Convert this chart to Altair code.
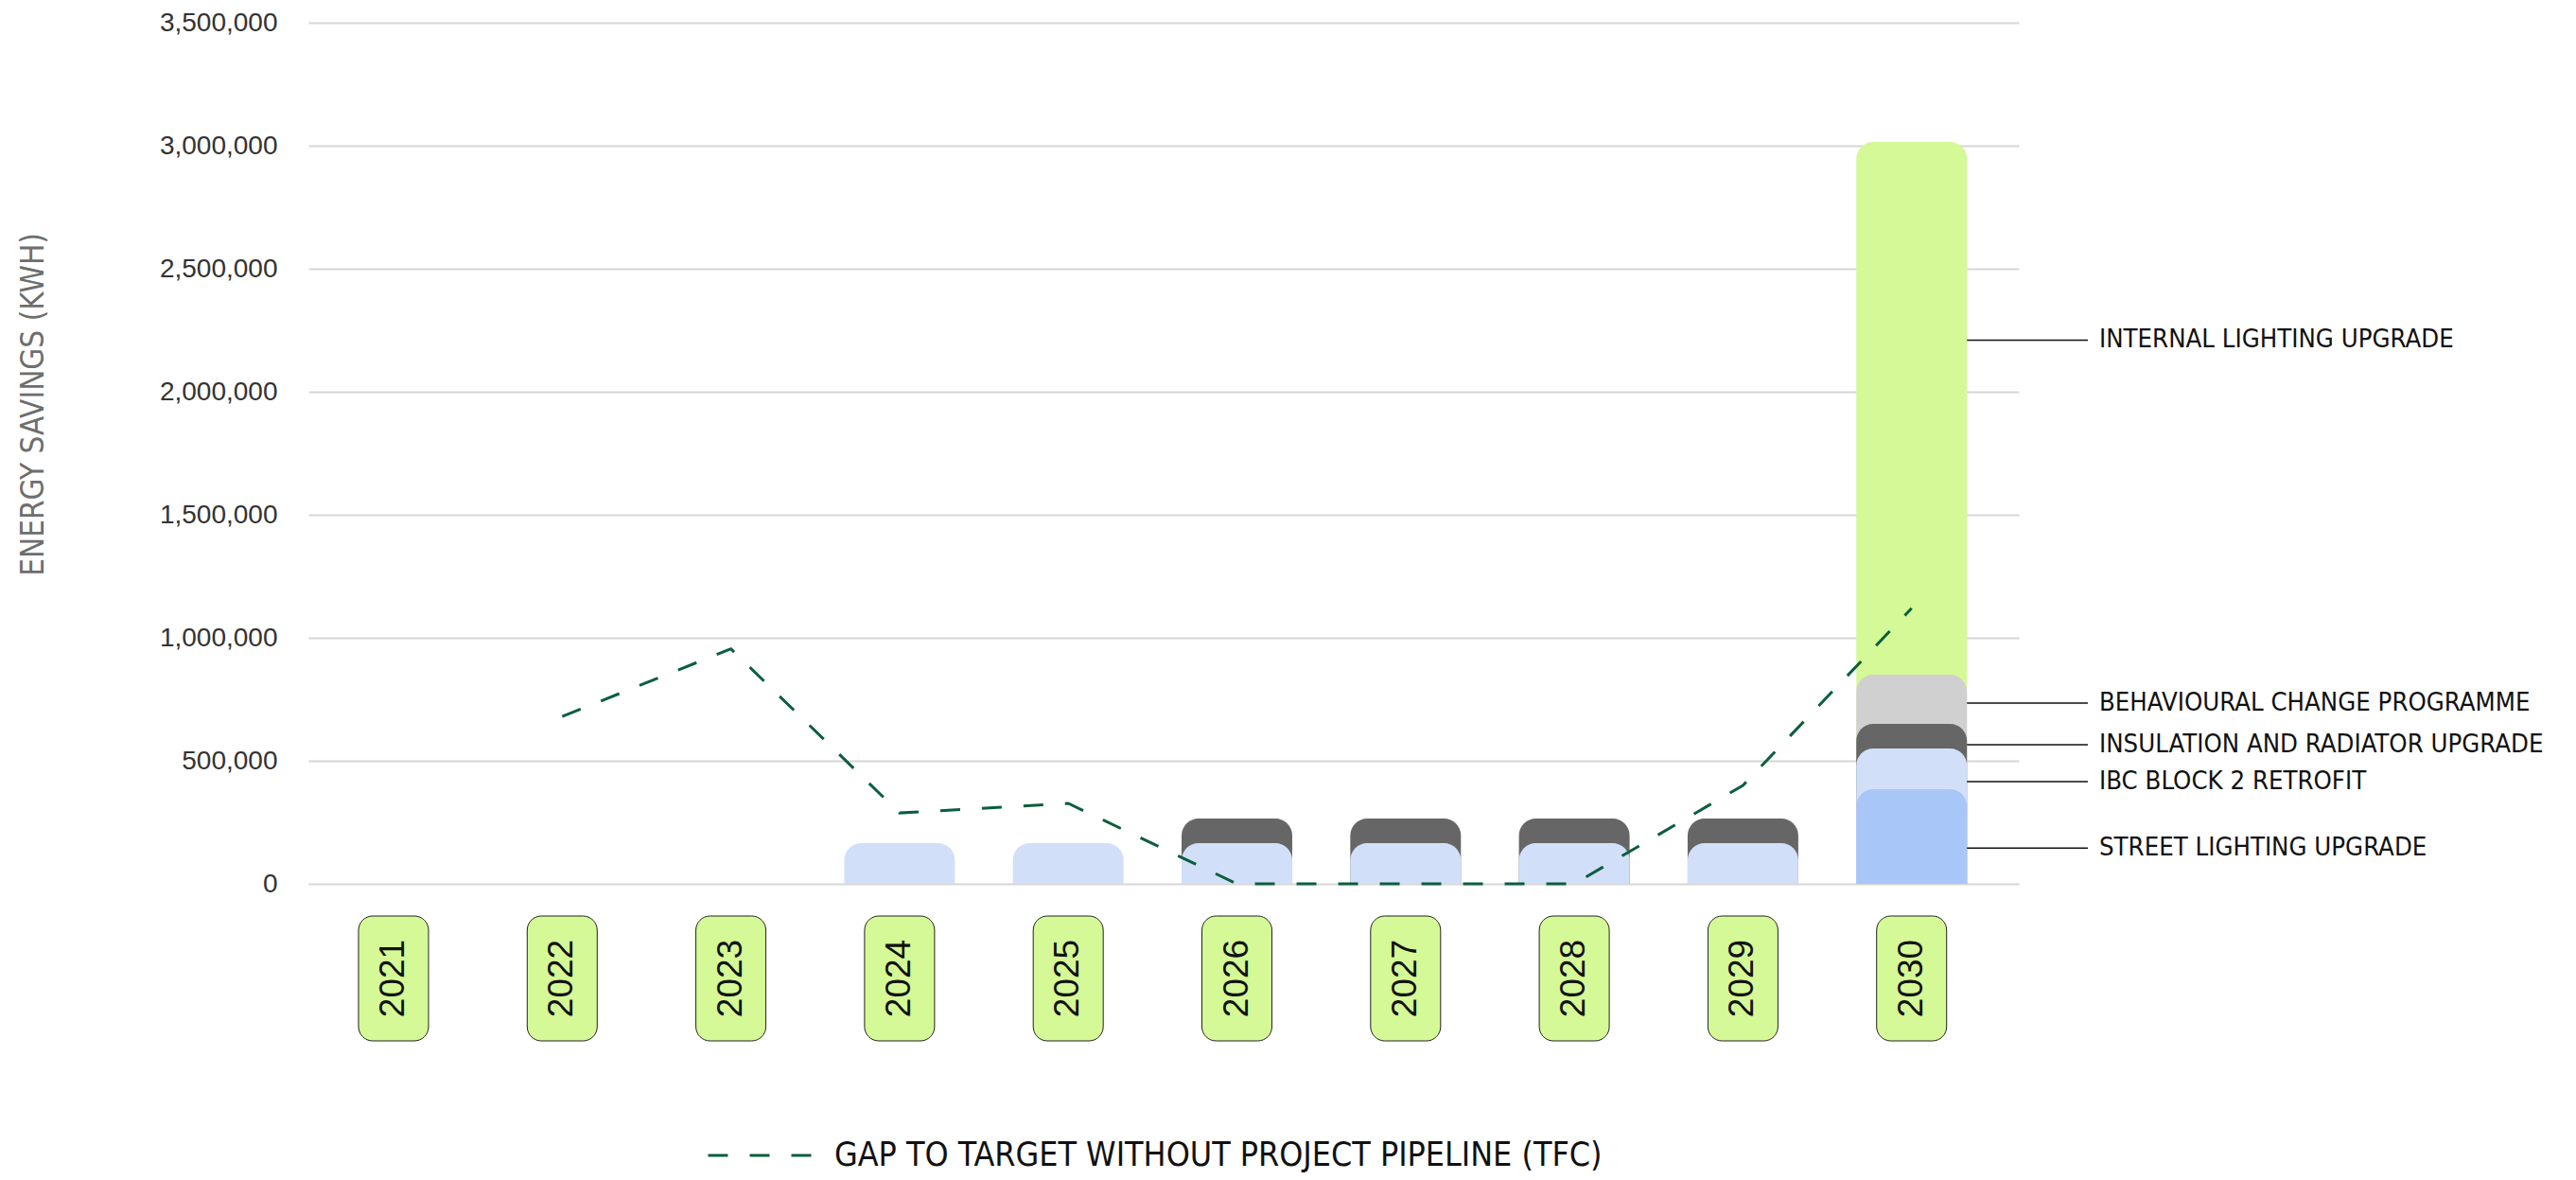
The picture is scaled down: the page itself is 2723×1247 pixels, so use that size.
import altair as alt
import pandas as pd

# ---------------- data ----------------
years = ["2021", "2022", "2023", "2024", "2025", "2026", "2027", "2028", "2029", "2030"]
series_names = [
    "STREET LIGHTING UPGRADE",
    "IBC BLOCK 2 RETROFIT",
    "INSULATION AND RADIATOR UPGRADE",
    "BEHAVIOURAL CHANGE PROGRAMME",
    "INTERNAL LIGHTING UPGRADE",
]
street = [0, 0, 0, 0, 0, 0, 0, 0, 0, 385000]
ibc = [0, 0, 0, 165000, 165000, 165000, 165000, 165000, 165000, 165000]
insulation = [0, 0, 0, 0, 0, 100000, 100000, 100000, 100000, 100000]
behavioural = [0, 0, 0, 0, 0, 0, 0, 0, 0, 200000]
internal = [0, 0, 0, 0, 0, 0, 0, 0, 0, 2165000]

gap_name = "GAP TO TARGET WITHOUT PROJECT PIPELINE (TFC)"
gap_years = ["2022", "2023", "2024", "2025", "2026", "2027", "2028", "2029", "2030"]
gap_values = [680000, 955000, 288000, 327000, 0, 0, 0, 400000, 1120000]

# annotation anchors (kWh) for the labels beside the 2030 bar
annot_values = [145000, 415000, 565000, 735000, 2210000]

y_ticks = [0, 500000, 1000000, 1500000, 2000000, 2500000, 3000000, 3500000]

colors = ["#a9c6f8", "#d1e0f8", "#666666", "#d0d0d0", "#d4f996"]

NARROW = "Liberation Sans Narrow, Arial Narrow, DejaVu Sans Condensed, sans-serif"
REG = "Liberation Sans, Arial, sans-serif"

# ---------------- tables ----------------
all_series = [street, ibc, insulation, behavioural, internal]
rows = []
for i, yr in enumerate(years):
    cum = 0
    for s_idx, vals in enumerate(all_series):
        v = vals[i]
        cum += v
        if v > 0:
            rows.append({"year": yr, "series": series_names[s_idx], "top": cum, "z": 4 - s_idx})
bar_df = pd.DataFrame(rows)

line_df = pd.DataFrame({"year": gap_years, "gap": gap_values, "name": [gap_name] * len(gap_years)})
annot_df = pd.DataFrame({"year": ["2030"] * 5, "series": series_names, "anchor": annot_values})
year_df = pd.DataFrame({"year": years})

xscale = alt.Scale(domain=years, paddingInner=0.344, paddingOuter=0.242, align=0.365)
yscale = alt.Scale(domain=[0, 3500000], nice=False)

bars = alt.Chart(bar_df).mark_bar(cornerRadiusTopLeft=18, cornerRadiusTopRight=18).encode(
    x=alt.X("year:N", scale=xscale, axis=None),
    y=alt.Y(
        "top:Q",
        stack=None,
        scale=yscale,
        axis=alt.Axis(
            values=y_ticks,
            format=",d",
            domain=False,
            ticks=False,
            labelPadding=33,
            labelFont=REG,
            labelFontSize=28,
            labelColor="#333333",
            gridColor="#d6d6d6",
            gridWidth=2,
            title="ENERGY SAVINGS (KWH)",
            titleFont=NARROW,
            titleFontSize=33,
            titleFontWeight="normal",
            titleColor="#6e6e6e",
            titleAngle=270,
            titleX=-291,
            titleY=403,
            titleAlign="center",
            titleBaseline="middle",
        ),
    ),
    color=alt.Color("series:N", scale=alt.Scale(domain=series_names, range=colors), legend=None),
    order=alt.Order("z:Q"),
)

line = alt.Chart(line_df).mark_line(strokeDash=[21, 23], strokeWidth=3, strokeCap="butt").encode(
    x=alt.X("year:N"),
    y=alt.Y("gap:Q"),
    stroke=alt.Stroke(
        "name:N",
        scale=alt.Scale(range=["#0b5e3e"]),
        legend=alt.Legend(
            orient="none",
            legendX=421,
            legendY=1141,
            title=None,
            symbolType="stroke",
            symbolSize=11881,
            symbolStrokeWidth=3,
            symbolDash=[21, 23],
            labelFont=NARROW,
            labelFontSize=35.5,
            labelColor="#111111",
            labelOffset=23,
            labelLimit=0,
        ),
    ),
)

rules = alt.Chart(annot_df).mark_rule(color="#111111", strokeWidth=1.5).encode(
    x=alt.X("year:N", bandPosition=1),
    x2=alt.value(1881),
    y=alt.Y("anchor:Q"),
)

annot_text = alt.Chart(annot_df).mark_text(
    align="left", baseline="middle", font=NARROW, fontSize=27.3, color="#111111"
).encode(
    x=alt.value(1893),
    y=alt.Y("anchor:Q"),
    text="series:N",
)

boxes = alt.Chart(year_df).mark_bar(
    width=74, cornerRadius=15, color="#d4f996", stroke="#222222", strokeWidth=1
).encode(
    x=alt.X("year:N"),
    y=alt.value(944),
    y2=alt.value(1076),
)

box_text = alt.Chart(year_df).mark_text(
    angle=270, align="center", baseline="middle", font=REG, fontSize=37, color="#111111"
).encode(
    x=alt.X("year:N"),
    y=alt.value(1010),
    text="year:N",
)

chart = (
    alt.layer(bars, line, rules, annot_text, boxes, box_text)
    .properties(
        width=1808,
        height=910,
        padding={"left": 318, "top": 16, "right": 570, "bottom": 305},
        autosize=alt.AutoSizeParams(type="none"),
    )
    .configure_view(stroke=None)
)

chart.save("out.html", embed_options={"renderer": "svg", "actions": False})
